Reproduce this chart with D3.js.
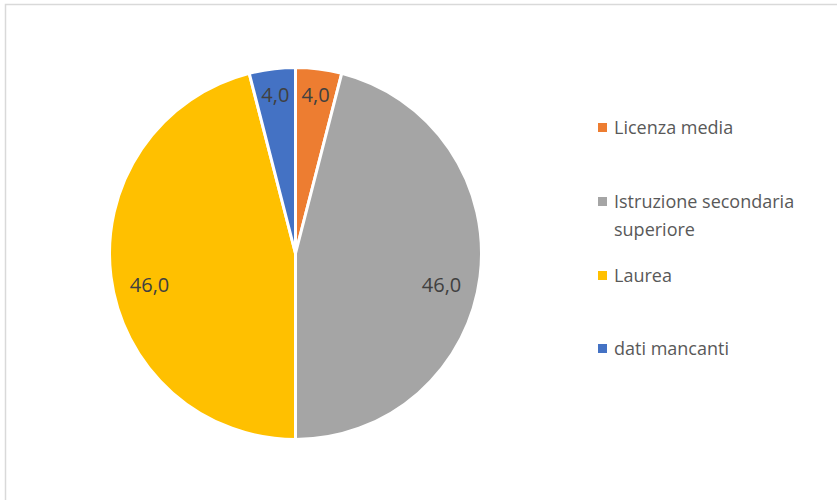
<!DOCTYPE html>
<html>
<head>
<meta charset="utf-8">
<script src="https://cdn.jsdelivr.net/npm/d3@7"></script>
<style>
  html, body { margin: 0; padding: 0; background: #fff; }
  svg { display: block; font-family: "Open Sans", sans-serif; }
</style>
</head>
<body>
<svg id="chart" width="837" height="500"></svg>
<script>
const categories = ['Licenza media', 'Istruzione secondaria superiore', 'Laurea', 'dati mancanti'];
const values     = [4.0, 46.0, 46.0, 4.0];
const colors     = ['#ED7D31', '#A5A5A5', '#FFC000', '#4472C4'];
// legend text broken into lines like the original
const legendLines = [['Licenza media'], ['Istruzione secondaria', 'superiore'], ['Laurea'], ['dati mancanti']];

const fmt = v => v.toFixed(1).replace('.', ',');

const svg = d3.select('#chart');

// chart frame (right/bottom edges fall outside the picture)
svg.append('rect')
  .attr('x', 5.5).attr('y', 4.5)
  .attr('width', 840).attr('height', 500)
  .attr('fill', 'none').attr('stroke', '#d9d9d9').attr('stroke-width', 1.5);

const cx = 295.5, cy = 253.5, r = 186;

const pie = d3.pie().sort(null).value(d => d.v);
const arcs = pie(values.map((v, i) => ({ v, i })));
const arc = d3.arc().innerRadius(0).outerRadius(r);

const g = svg.append('g').attr('transform', `translate(${cx},${cy})`);

g.selectAll('path')
  .data(arcs)
  .join('path')
  .attr('d', arc)
  .attr('fill', d => colors[d.data.i])
  .attr('stroke', '#fff')
  .attr('stroke-width', 3)
  .attr('stroke-linejoin', 'round');

// data labels, roughly at Excel's "best fit" spot
g.selectAll('text.lbl')
  .data(arcs)
  .join('text')
  .attr('class', 'lbl')
  .attr('transform', d => {
    const mid = (d.startAngle + d.endAngle) / 2;
    const c = Math.cos(mid), s = Math.sin(mid);
    const lr = r * (0.79 + 0.075 * c * c);
    const x = s * lr;
    const y = -c * lr + r * 0.072 * s * s;
    return `translate(${x},${y})`;
  })
  .attr('text-anchor', 'middle')
  .attr('dy', '0.36em')
  .attr('font-size', 20)
  .attr('fill', '#404040')
  .text(d => fmt(d.data.v));

// legend
const legendY = [134, 208, 282, 355];
const leg = svg.append('g').attr('transform', 'translate(598,0)');
const items = leg.selectAll('g')
  .data(categories)
  .join('g')
  .attr('transform', (d, i) => `translate(0,${legendY[i]})`);

items.append('rect')
  .attr('x', 0).attr('y', -11)
  .attr('width', 9).attr('height', 9)
  .attr('fill', (d, i) => colors[i]);

items.append('text')
  .attr('x', 16)
  .attr('font-size', 18)
  .attr('fill', '#595959')
  .selectAll('tspan')
  .data((d, i) => legendLines[i])
  .join('tspan')
  .attr('x', 16)
  .attr('dy', (d, j) => j === 0 ? 0 : 28)
  .text(d => d);
</script>
</body>
</html>
